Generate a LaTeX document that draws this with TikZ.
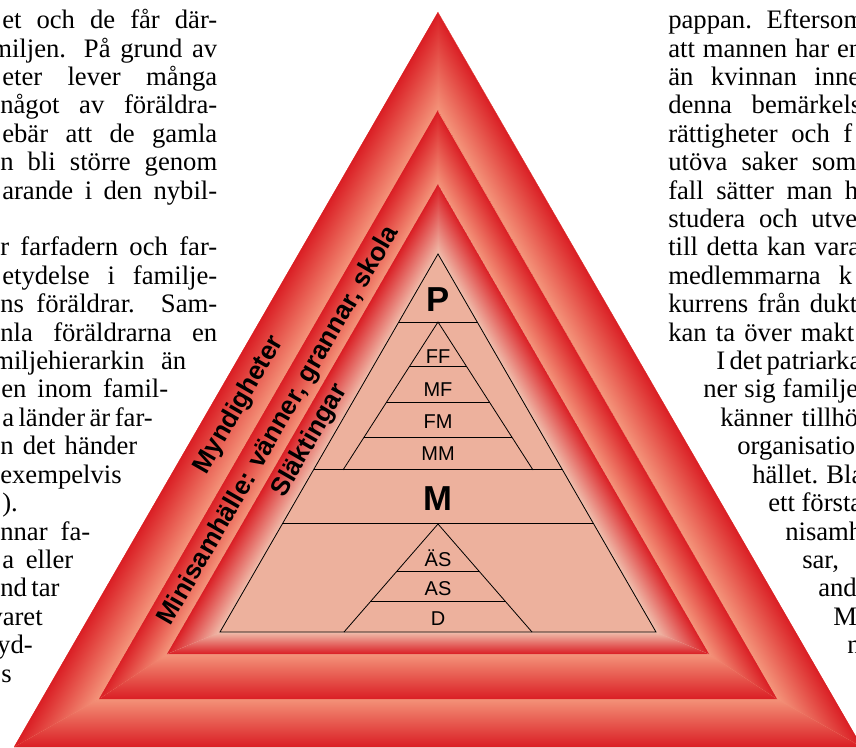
\documentclass[tikz,border=0pt]{standalone}
\usepackage{fontspec}
\setmainfont{Liberation Serif}
\newfontfamily\labelfont{Liberation Sans}
\usetikzlibrary{calc}
\tikzset{x=0.75pt,y=0.75pt}
\definecolor{bandred}{RGB}{218,30,36}
\definecolor{bandlight}{RGB}{244,148,122}
\definecolor{corelight}{RGB}{240,190,172}
\definecolor{pyrfill}{RGB}{237,177,157}
\def\rowtop{718.2}
\def\rowskip{28.4}

% one side of a band: outer edge #1-#2, inner edge #3-#4, edge angle #5, width #6, light colour #7
\newcommand\bandside[7]{%
  \begin{scope}
    \clip (#1) -- (#2) -- (#3) -- (#4) -- cycle;
    \fill[#7] (#1) -- (#2) -- (#3) -- (#4) -- cycle;
    \begin{scope}[transform canvas={shift={(#1)},rotate=#5}]
      \shade[bottom color=bandred, top color=#7] (-60,0) rectangle (960,#6);
    \end{scope}
  \end{scope}}

% justified line of body text: name, left x, right x, row, text
\newcommand\tline[5]{%
  \pgfmathsetmacro\tlw{((#3)-(#2))*0.75}
  \node[bodytxt, anchor=base west] (#1) at (#2,{\rowtop-\rowskip*#4}) {\makebox[\tlw pt][s]{#5}};}
% single word: name, anchor, x, row, text
\newcommand\tword[5]{%
  \node[bodytxt, anchor=base #2] (#1) at (#3,{\rowtop-\rowskip*#4}) {#5};}

\begin{document}
\begin{tikzpicture}[
  bodytxt/.style={inner sep=0pt, font=\fontsize{20}{23}\selectfont},
  pyrlabel/.style={font=\labelfont\fontsize{15}{18}\selectfont, inner sep=0pt, anchor=base},
  pyrhead/.style={font=\labelfont\bfseries\fontsize{26}{30}\selectfont, inner sep=0pt, anchor=base},
  bandlabel/.style={font=\labelfont\bfseries\fontsize{19.5}{23}\selectfont, rotate=60, inner sep=0pt},
  pyrline/.style={line width=0.6pt}]

\useasboundingbox (0,0) rectangle (856,747);

%% corners of the nested triangles
\coordinate (oA) at (438,735);
\coordinate (oL) at (14,0);
\coordinate (oR) at (862,0);
\coordinate (mA) at (438,637);
\coordinate (mL) at (99,48);
\coordinate (mR) at (777,48);
\coordinate (iA) at (438,563);
\coordinate (iL) at (167,93);
\coordinate (iR) at (709,93);
\coordinate (pA) at (438,493);
\coordinate (pL) at (220,115);
\coordinate (pR) at (656,115);

\fill[bandred] (oA) -- (oL) -- (oR) -- cycle;

%% bands, dark on the outside
\bandside{oL}{oR}{mR}{mL}{0}{49}{bandlight}
\bandside{oR}{oA}{mA}{mR}{120}{49}{bandlight}
\bandside{oA}{oL}{mL}{mA}{240}{49}{bandlight}

\bandside{mL}{mR}{iR}{iL}{0}{45}{bandlight}
\bandside{mR}{mA}{iA}{iR}{120}{36.5}{bandlight}
\bandside{mA}{mL}{iL}{iA}{240}{36.5}{bandlight}

\bandside{iL}{iR}{pR}{pL}{0}{22}{corelight}
\bandside{iR}{iA}{pA}{pR}{120}{35}{corelight}
\bandside{iA}{iL}{pL}{pA}{240}{35}{corelight}

\node[bandlabel] (myn) at (239,342) {Myndigheter};
\node[bandlabel] (mini) at (279,321) {Minisamhälle: vänner, grannar, skola};
\node[bandlabel] (slakt) at (310,306) {Släktingar};

%% the pyramid
\filldraw[pyrline, fill=pyrfill] (pA) -- (pL) -- (pR) -- cycle;

\coordinate (p1L) at ($(pA)!0.18!(pL)$);
\coordinate (p1R) at ($(pA)!0.18!(pR)$);
\coordinate (p2L) at ($(pA)!0.571!(pL)$);
\coordinate (p2R) at ($(pA)!0.571!(pR)$);
\coordinate (p3L) at ($(pA)!0.714!(pL)$);
\coordinate (p3R) at ($(pA)!0.714!(pR)$);
\draw[pyrline] (p1L) -- (p1R)  (p2L) -- (p2R)  (p3L) -- (p3R);

% grandparents
\coordinate (fA) at (438,425);
\coordinate (fL) at (343,277);
\coordinate (fR) at (533,277);
\draw[pyrline] (fL) -- (fA) -- (fR);
\foreach \t/\n in {0.30/1, 0.544/2, 0.782/3}
  \draw[pyrline] ($(fA)!\t!(fL)$) coordinate (f\n L) -- ($(fA)!\t!(fR)$) coordinate (f\n R);

% children
\coordinate (sA) at (438,223);
\coordinate (sL) at (344,115);
\coordinate (sR) at (532,115);
\draw[pyrline] (sL) -- (sA) -- (sR);
\foreach \t/\n in {0.435/1, 0.713/2}
  \draw[pyrline] ($(sA)!\t!(sL)$) coordinate (s\n L) -- ($(sA)!\t!(sR)$) coordinate (s\n R);

\node[pyrhead] (P) at (438,435) {P};
\node[pyrlabel] (FF) at (438,383) {FF};
\node[pyrlabel] (MF) at (438,351) {MF};
\node[pyrlabel] (FM) at (438,319) {FM};
\node[pyrlabel] (MM) at (438,287) {MM};
\node[pyrhead] (M) at (438,237) {M};
\node[pyrlabel] (AES) at (438,181) {ÄS};
\node[pyrlabel] (AS) at (438,152) {AS};
\node[pyrlabel] (D) at (438,122) {D};

%% body text, left column
\tline{l0}{2}{217}{0}{et och de får där-}
\tline{l1}{-9}{217}{1}{miljen. På grund av}
\tline{l2}{2}{217}{2}{eter lever många}
\tline{l3}{0}{217}{3}{något av föräldra-}
\tline{l4}{2}{217}{4}{ebär att de gamla}
\tline{l5}{0}{217}{5}{n bli större genom}
\tline{l6}{2}{217}{6}{arande i den nybil-}
\tline{l8}{0}{217}{8}{r farfadern och far-}
\tline{l9}{2}{217}{9}{etydelse i familje-}
\tline{l10}{0}{217}{10}{ns föräldrar. Sam-}
\tline{l11}{0}{217}{11}{nla föräldrarna en}
\tline{l12}{-7}{186}{12}{miljehierarkin än}
\tline{l13}{1}{168}{13}{en inom famil-}
\tline{l14}{2}{150}{14}{a länder är far-}
\tline{l15}{0}{137}{15}{n det händer}
\tword{l16}{east}{122}{16}{exempelvis}
\tword{l17}{west}{2}{17}{).}
\tline{l18}{0}{90}{18}{nnar fa-}
\tline{l19}{2}{73}{19}{a eller}
\tline{l20}{0}{58}{20}{nd tar}
\tword{l21}{east}{43}{21}{varet}
\tword{l22}{east}{33}{22}{yd-}
\tword{l23}{east}{12}{23}{s}

%% body text, right column
\tline{r0}{668}{864}{0}{pappan. Eftersom}
\tline{r1}{668}{862}{1}{att mannen har en}
\tline{r2}{668}{860}{2}{än kvinnan inne}
\tline{r3}{668}{861}{3}{denna bemärkels}
\tline{r4}{668}{852}{4}{rättigheter och f}
\tline{r5}{668}{856}{5}{utöva saker som}
\tline{r6}{668}{858}{6}{fall sätter man h}
\tline{r7}{668}{857}{7}{studera och utve}
\tline{r8}{668}{860}{8}{till detta kan vara}
\tline{r9}{668}{852}{9}{medlemmarna k}
\tline{r10}{668}{857}{10}{kurrens från dukt}
\tline{r11}{668}{854}{11}{kan ta över makt}
\tline{r12}{716}{858}{12}{I det patriarka}
\tline{r13}{703}{858}{13}{ner sig familje}
\tline{r14}{720}{858}{14}{känner tillhö}
\tword{r15}{west}{737}{15}{organisatio}
\tline{r16}{752}{861}{16}{hället. Bla}
\tline{r17}{768}{862}{17}{ett första}
\tword{r18}{west}{785}{18}{nisamh}
\tword{r19}{west}{802}{19}{sar,}
\tword{r20}{west}{818}{20}{and}
\tword{r21}{west}{833}{21}{M}
\tword{r22}{west}{847}{22}{n}

\end{tikzpicture}
\end{document}
